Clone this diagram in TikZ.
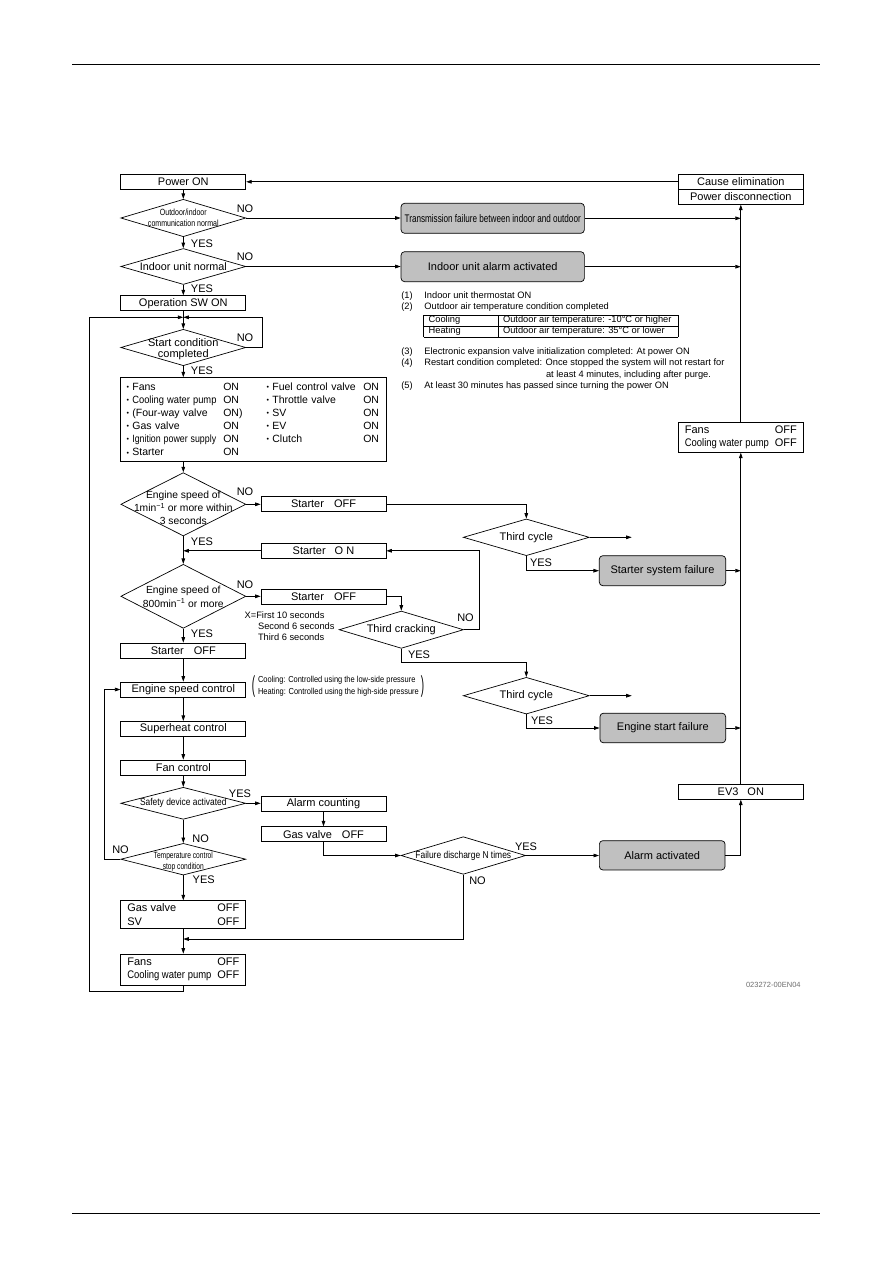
\documentclass[tikz,border=0pt]{standalone}
\usepackage{fontspec}
\setmainfont{Liberation Sans}
\usepackage{graphicx}
\usetikzlibrary{shapes.geometric,arrows.meta}
\definecolor{boxgray}{RGB}{192,192,192}
\definecolor{notegray}{RGB}{110,110,110}
\newcommand{\fsz}[2]{\fontsize{#1}{#2}\selectfont}
\newcommand{\cnd}[2]{\scalebox{#1}[1]{#2}}
\newcommand{\bul}{\raisebox{0.8pt}{\fsz{7}{7}•}\hspace{3.2pt}}
\begin{document}
\begin{tikzpicture}[x=1pt,y=-1pt,
  line width=0.7pt,
  >={Triangle[length=5.5pt,width=3.6pt]},
  box/.style={draw,rectangle,minimum width=125pt,minimum height=15pt,inner sep=0pt,font={\fsz{11}{13}}},
  gbox/.style={draw,rectangle,rounded corners=3.5pt,fill=boxgray,minimum width=125.5pt,minimum height=29.5pt,inner sep=0pt,font={\fsz{11}{13}}},
  dia/.style={draw,diamond,minimum width=125pt,inner sep=0pt},
  dtxt/.style={font={\fsz{11}{13}},align=center,inner sep=0pt},
  lbl/.style={inner sep=0pt,font={\fsz{11}{13}}},
  note/.style={anchor=base west,inner sep=0pt,font={\fsz{9.3}{11.2}}},
]
\useasboundingbox (0,0) rectangle (893,1263);

% page rules
\coordinate (hdL) at (72,64);
\coordinate (hdR) at (820,64);
\coordinate (ftL) at (72,1213);
\coordinate (ftR) at (820,1213);
\draw[line width=0.8pt] (hdL) -- (hdR);
\draw[line width=0.8pt] (ftL) -- (ftR);

% ---------- left column ----------
\node[box] (pwr) at (183.3,181.8) {Power ON};
\node[dia,minimum height=37.4pt,label={[dtxt,font={\fsz{9}{11}}]center:{\cnd{0.78}{Outdoor/indoor}\\\cnd{0.78}{communication normal}}}] (d1) at (183.3,218) {};
\node[dia,minimum height=36pt,label={[dtxt,font={\fsz{10.8}{13}}]center:{Indoor unit normal}}] (d2) at (183.3,266.5) {};
\node[box] (op) at (183.3,303.2) {Operation SW ON};
\node[dia,minimum height=36.4pt,label={[dtxt,font={\fsz{11}{10.5}},yshift=-1.5pt]center:{Start condition\\completed}}] (dstart) at (183.3,347.5) {};

\node[draw,inner sep=0pt,minimum width=266pt,minimum height=83.3pt,text width=266pt,align=left,font={\fsz{10.5}{13.1}}] (onb) at (253.7,419.3) {%
\hspace*{6pt}\makebox[96.6pt][l]{\bul Fans}\makebox[43.4pt][l]{ON}\makebox[96.6pt][l]{\bul Fuel control valve}ON\\
\hspace*{6pt}\makebox[96.6pt][l]{\bul \cnd{0.89}{Cooling water pump}}\makebox[43.4pt][l]{ON}\makebox[96.6pt][l]{\bul Throttle valve}ON\\
\hspace*{6pt}\makebox[96.6pt][l]{\bul (Four-way valve}\makebox[43.4pt][l]{ON)}\makebox[96.6pt][l]{\bul SV}ON\\
\hspace*{6pt}\makebox[96.6pt][l]{\bul Gas valve}\makebox[43.4pt][l]{ON}\makebox[96.6pt][l]{\bul EV}ON\\
\hspace*{6pt}\makebox[96.6pt][l]{\bul \cnd{0.84}{Ignition power supply}}\makebox[43.4pt][l]{ON}\makebox[96.6pt][l]{\bul Clutch}ON\\
\hspace*{6pt}\makebox[96.6pt][l]{\bul Starter}\makebox[43.4pt][l]{ON}};

\node[dia,minimum height=63.3pt,label={[dtxt,font={\fsz{10.3}{13}},yshift=-3.7pt]center:{Engine speed of\\1min\textsuperscript{−1} or more within\\3 seconds}}] (d3) at (183.3,504.3) {};
\node[dia,minimum height=64pt,label={[dtxt,font={\fsz{10.3}{13.3}},yshift=-0.4pt]center:{Engine speed of\\800min\textsuperscript{−1} or more}}] (d4) at (183.3,596.3) {};
\node[box] (st3) at (183.3,650.5) {Starter\hspace{10pt}OFF};
\node[box] (esc) at (183.3,689.5) {Engine speed control};
\node[box] (sh) at (183.3,728.8) {Superheat control};
\node[box] (fc) at (183.3,767.5) {Fan control};
\node[dia,minimum height=32pt,label={[dtxt,font={\fsz{10}{12}}]center:{\cnd{0.84}{Safety device activated}}}] (dsafe) at (183.3,803.3) {};
\node[dia,minimum height=31.7pt,label={[dtxt,font={\fsz{9}{11.3}},yshift=-2.5pt]center:{\cnd{0.74}{Temperature control}\\\cnd{0.74}{stop condition}}}] (dtemp) at (183.3,859.2) {};
\node[box,minimum height=27.6pt,font={\fsz{11}{13.3}},align=center] (gvsv) at (183.3,914.5) {\makebox[112pt]{Gas valve\hfill OFF}\\\makebox[112pt]{SV\hfill OFF}};
\node[box,minimum height=31pt,font={\fsz{11}{13.3}},align=center] (fans2) at (183.3,969.5) {\makebox[112pt]{Fans\hfill OFF}\\\makebox[112pt]{\cnd{0.86}{Cooling water pump}\hfill OFF}};

% ---------- middle column ----------
\node[gbox,minimum width=183.3pt,minimum height=30pt] (trans) at (492.7,218.3) {\cnd{0.74}{Transmission failure between indoor and outdoor}};
\node[gbox,minimum width=183.3pt,minimum height=30pt] (ialarm) at (492.7,266.7) {Indoor unit alarm activated};

\node[note] (n1) at (401,298.3) {\makebox[23pt][l]{(1)}Indoor unit thermostat ON};
\node[note] (n2) at (401,309) {\makebox[23pt][l]{(2)}Outdoor air temperature condition completed};
\node[anchor=north west,inner sep=0pt] (tbl) at (423.3,314.3) {\fsz{9.3}{10.4}\setlength{\tabcolsep}{5pt}\setlength{\arrayrulewidth}{0.6pt}%
\begin{tabular}{|p{64.4pt}|p{170pt}|}\hline
Cooling & Outdoor air temperature: -10°C or higher\\\hline
Heating & Outdoor air temperature: 35°C or lower\\\hline
\end{tabular}};
\node[note] (n3) at (401,354.3) {\makebox[23pt][l]{(3)}Electronic expansion valve initialization completed: At power ON};
\node[note] (n4) at (401,365.6) {\makebox[23pt][l]{(4)}Restart condition completed: Once stopped the system will not restart for};
\node[note] (n4b) at (545.7,377.3) {at least 4 minutes, including after purge.};
\node[note] (n5) at (401,388.6) {\makebox[23pt][l]{(5)}At least 30 minutes has passed since turning the power ON};

\node[box] (st1) at (323.5,504.2) {Starter\hspace{10pt}OFF};
\node[box] (stON) at (323.5,550.8) {Starter\hspace{9pt}O N};
\node[box] (st2) at (323.5,596.8) {Starter\hspace{10pt}OFF};
\node[note] (x1) at (244.3,618.3) {X=First 10 seconds};
\node[note] (x2) at (257.7,629.5) {Second 6 seconds};
\node[note] (x3) at (257.7,640.7) {Third 6 seconds};
\node[dia,minimum width=124.3pt,minimum height=37.3pt,label={[dtxt]center:{Third cracking}}] (tcr) at (401.3,629.7) {};

\node[inner sep=0pt,font={\fsz{11}{11}}] (parL) at (253.5,686.5) {\scalebox{0.9}[2.1]{(}};
\node[note,font={\fsz{8.7}{11}}] (annC) at (257.7,682.8) {\cnd{0.86}{Cooling: Controlled using the low-side pressure}};
\node[note,font={\fsz{8.7}{11}}] (annH) at (257.7,694.8) {\cnd{0.86}{Heating: Controlled using the high-side pressure}};
\node[inner sep=0pt,font={\fsz{11}{11}}] (parR) at (422.5,686.5) {\scalebox{0.9}[2.1]{)}};

\node[dia,minimum width=126pt,minimum height=36.7pt,label={[dtxt]center:{Third cycle}}] (tc1) at (526.3,537.3) {};
\node[dia,minimum width=126pt,minimum height=36.7pt,label={[dtxt]center:{Third cycle}}] (tc2) at (526.3,695.7) {};

\node[box] (ac) at (323.5,803.8) {Alarm counting};
\node[box] (gv) at (323.5,834.2) {Gas valve\hspace{10pt}OFF};
\node[dia,minimum width=124.7pt,minimum height=37.6pt,label={[dtxt,font={\fsz{10}{12}}]center:{\cnd{0.845}{Failure discharge N times}}}] (dfail) at (463.3,855.5) {};

% ---------- right column ----------
\node[box] (cause) at (740.8,181.8) {Cause elimination};
\node[box] (pdis) at (740.8,196.8) {Power disconnection};
\node[box,minimum height=30pt,font={\fsz{11}{12.3}},align=center] (fansR) at (740.8,437.3) {\makebox[112pt]{Fans\hfill OFF}\\\makebox[112pt]{\cnd{0.86}{Cooling water pump}\hfill OFF}};
\node[gbox,minimum width=126.4pt,minimum height=30pt] (ssf) at (662.5,570.7) {Starter system failure};
\node[gbox,minimum width=125.7pt,minimum height=29.6pt] (esf) at (662.8,728) {Engine start failure};
\node[box,minimum width=124.3pt] (ev3) at (740.8,791.8) {EV3\hspace{9pt}ON};
\node[gbox,minimum width=125.7pt,minimum height=29.3pt] (aa) at (662.2,855.3) {Alarm activated};

\node[anchor=base east,inner sep=0pt,font={\fsz{7.5}{9}},text=notegray] (code) at (801,987) {023272-00EN04};

% ---------- YES / NO labels ----------
\node[lbl] (no1) at (245,209) {NO};
\node[lbl] (yes1) at (202,243.3) {YES};
\node[lbl] (no2) at (245,257) {NO};
\node[lbl] (yes2) at (202,289) {YES};
\node[lbl] (no3) at (245,338) {NO};
\node[lbl] (yes3) at (202,371) {YES};
\node[lbl] (no4) at (245,492) {NO};
\node[lbl] (yes4) at (202,541.7) {YES};
\node[lbl] (no5) at (245,584.3) {NO};
\node[lbl] (yes5) at (202,634) {YES};
\node[lbl] (no6) at (465.5,618) {NO};
\node[lbl] (yes6) at (419,654.3) {YES};
\node[lbl] (yes7) at (541,562.7) {YES};
\node[lbl] (yes8) at (542,721) {YES};
\node[lbl] (yes9) at (240,793.3) {YES};
\node[lbl] (no7) at (200.7,839) {NO};
\node[lbl] (no8) at (120.5,850) {NO};
\node[lbl] (yes10) at (203.7,879.3) {YES};
\node[lbl] (yes11) at (526,846.7) {YES};
\node[lbl] (no9) at (477.5,880.7) {NO};

% ---------- connectors ----------
\coordinate (m1) at (183.3,317.3);
\coordinate (lpB) at (89,991.7);
\coordinate (lpT) at (89,317.3);
\coordinate (mB) at (183.3,939);
\coordinate (tc1o) at (631.7,537.3);
\coordinate (tc2o) at (631.7,695.7);

\draw[->] (cause.west) -- (pwr.east);
\draw[->] (pwr.south) -- (d1.north);
\draw[->] (d1.east) -- (d1.east -| trans.west);
\draw[->] (trans.east) -- (trans.east -| pdis.south);
\draw[->] (d1.south) -- (d2.north);
\draw[->] (d2.east) -- (d2.east -| ialarm.west);
\draw[->] (ialarm.east) -- (ialarm.east -| pdis.south);
\draw[->] (d2.south) -- (op.north);
\draw[->] (op.south) -- (dstart.north);
\draw[->] (dstart.east) -- ++(15.7,0) |- (m1);
\draw[->] (fans2.south) |- (lpB) -- (lpT) -- (m1);
\draw[->] (dstart.south) -- (dstart.south |- onb.north);
\draw[->] (d3.north |- onb.south) -- (d3.north);
\draw[->] (d3.east) -- (d3.east -| st1.west);
\draw[->] (st1.east) -| (tc1.north);
\draw[->] (tc1.east) -- (tc1o);
\draw[->] (tc1.south) |- (ssf.west);
\draw[->] (ssf.east) -- (ssf.east -| pdis.south);
\draw[->] (d3.south) -- (d4.north);
\draw[->] (stON.west) -- (stON.west -| d3.south);
\draw[->] (d4.east) -- (d4.east -| st2.west);
\draw[->] (st2.east) -| (tcr.north);
\draw[->] (tcr.east) -- ++(16,0) |- (stON.east);
\draw[->] (tcr.south) -- ++(0,14) -| (tc2.north);
\draw[->] (tc2.east) -- (tc2o);
\draw[->] (tc2.south) |- (esf.west);
\draw[->] (esf.east) -- (esf.east -| pdis.south);
\draw[->] (d4.south) -- (st3.north);
\draw[->] (st3.south) -- (esc.north);
\draw[->] (esc.south) -- (sh.north);
\draw[->] (sh.south) -- (fc.north);
\draw[->] (fc.south) -- (dsafe.north);
\draw[->] (dsafe.east) -- (dsafe.east -| ac.west);
\draw[->] (ac.south) -- (gv.north);
\draw[->] (gv.south) |- (dfail.west);
\draw[->] (dfail.east) -- (dfail.east -| aa.west);
\draw[->] (aa.east) -| (ev3.south);
\draw[->] (ev3.north) -- (fansR.south);
\draw[->] (fansR.north) -- (pdis.south);
\draw[->] (dfail.south) |- (mB);
\draw[->] (dsafe.south) -- (dtemp.north);
\draw[->] (dtemp.west) -- ++(-16.4,0) |- (esc.west);
\draw[->] (dtemp.south) -- (gvsv.north);
\draw[->] (gvsv.south) -- (fans2.north);
\end{tikzpicture}
\end{document}
